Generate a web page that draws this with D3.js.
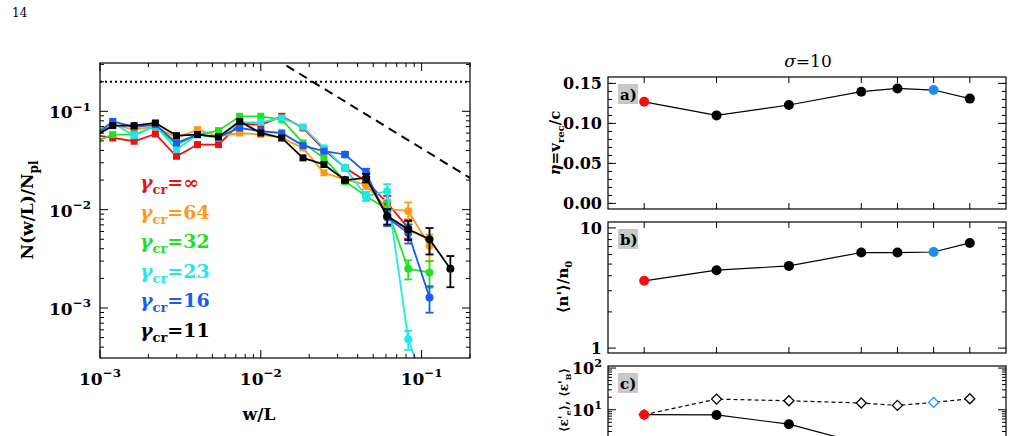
<!DOCTYPE html>
<html><head><meta charset="utf-8">
<script src="https://cdn.jsdelivr.net/npm/d3@7"></script>
<style>body{margin:0;background:#fff}svg{display:block}text{font-family:"DejaVu Serif","Liberation Serif",serif;font-weight:bold}text.n{font-weight:normal}</style>
</head><body><svg id="c" width="1013" height="436"></svg>
<script>
// ---- left panel data ----
const wL = [0.00089,0.0012,0.00163,0.00221,0.00299,0.00404,0.00546,0.00739,0.01,0.0135,0.0183,0.0247,0.0334,0.0452,0.0611,0.0826,0.112,0.151];
const seriesNames = ["∞","64","32","23","16","11"];
const seriesColors = ["#f01010","#ff9a10","#22e022","#20e8e8","#1a5cf0","#000000"];
const sRed    = [0.058,0.0536,0.0496,0.0589,0.0349,0.0459,0.0459,0.075,0.073,0.089,0.0677,0.0408,0.0266,0.0195,0.0117,0.0065];
const sOrange = [0.0627,0.0732,0.0651,0.0704,0.0536,0.0651,0.0557,0.0602,0.058,0.0536,0.0424,0.0237,0.0202,0.018,0.0101,0.0097,0.0043];
const sGreen  = [0.0477,0.058,0.058,0.0704,0.0459,0.058,0.0636,0.089,0.089,0.0823,0.0477,0.0336,0.0195,0.0137,0.0101,0.0025,0.0023];
const sCyan   = [0.0557,0.0761,0.0566,0.0715,0.0408,0.058,0.0536,0.0773,0.0773,0.0856,0.0693,0.0424,0.0266,0.0137,0.0154,0.00048,0.00012];
const sBlue   = [0.0536,0.079,0.0693,0.0732,0.0477,0.058,0.0549,0.0677,0.0627,0.0602,0.0448,0.0393,0.0364,0.0237,0.0083,0.0058,0.00128];
const sBlack  = [0.0536,0.0715,0.0715,0.0761,0.0566,0.058,0.0549,0.079,0.0602,0.0536,0.0336,0.0288,0.02,0.021,0.0086,0.0063,0.005,0.0025];
const errFrac = [0,0,0,0,0,0,0,0,0,0,0,0,0.06,0.1,0.18,0.22,0.3,0.35];
const plateau = 0.2, slopeCoef = 0.0042;
// ---- right panel data ----
const runPos = [0,2,4,6,7,8,9];
const runColors = ["#f01010","#000","#000","#000","#000","#1e8cf0","#000"];
const eta = [0.127,0.110,0.123,0.1396,0.1437,0.1417,0.131];
const nDens = [3.63,4.45,4.83,6.24,6.24,6.3,7.5];
const epsB = [7.6,18,16.4,14.5,12.7,15,18.3];
const epsE = [7.6,7.5,4.5,1.55,1.3,1.15,1.0];

const svg = d3.select("#c");
svg.append("text").attr("class","n").attr("x",12).attr("y",17).attr("font-size",12).text("14");

function logTicks(sc){
  const [a,b]=sc.domain(); const out=[];
  for(let e=Math.floor(Math.log10(a));e<=Math.ceil(Math.log10(b));e++)
    for(let m=1;m<10;m++){const v=m*Math.pow(10,e); if(v>=a&&v<=b) out.push({v,major:m===1});}
  return out;
}
function box(g,x0,x1,y0,y1){g.append("rect").attr("x",x0).attr("y",y0).attr("width",x1-x0).attr("height",y1-y0).attr("fill","none").attr("stroke","#000").attr("stroke-width",1.2);}
function ticksX(g,list,sc,y0,y1){list.forEach(t=>{const L=t.major?8:4,x=sc(t.v);
  g.append("line").attr("x1",x).attr("x2",x).attr("y1",y1).attr("y2",y1-L).attr("stroke","#000");
  g.append("line").attr("x1",x).attr("x2",x).attr("y1",y0).attr("y2",y0+L).attr("stroke","#000");});}
function ticksY(g,list,sc,x0,x1){list.forEach(t=>{const L=t.major?8:4,y=sc(t.v);
  g.append("line").attr("y1",y).attr("y2",y).attr("x1",x0).attr("x2",x0+L).attr("stroke","#000");
  g.append("line").attr("y1",y).attr("y2",y).attr("x1",x1).attr("x2",x1-L).attr("stroke","#000");});}
function pow10(g,x,y,e,anchor,fs){const t=g.append("text").attr("x",x).attr("y",y).attr("text-anchor",anchor).attr("font-size",fs);
  t.append("tspan").text("10");t.append("tspan").attr("dy",-fs*0.45).attr("font-size",fs*0.7).text(e);}

// ---------- LEFT ----------
const L = svg.append("g");
const x = d3.scaleLog().domain([1e-3,0.2]).range([100,470]);
const y = d3.scaleLog().domain([3.1e-4,0.31]).range([358,63]);
L.append("clipPath").attr("id","cl").append("rect").attr("x",100).attr("y",63).attr("width",370).attr("height",295);
const P = L.append("g").attr("clip-path","url(#cl)");
P.append("line").attr("x1",100).attr("x2",470).attr("y1",y(plateau)).attr("y2",y(plateau)).attr("stroke","#000").attr("stroke-width",2).attr("stroke-dasharray","2,3");
const dl=[0.01,0.2];
P.append("line").attr("x1",x(dl[0])).attr("x2",x(dl[1])).attr("y1",y(slopeCoef/dl[0])).attr("y2",y(slopeCoef/dl[1])).attr("stroke","#000").attr("stroke-width",2).attr("stroke-dasharray","9,6");
const allS=[sRed,sOrange,sGreen,sCyan,sBlue,sBlack];
allS.forEach((s,i)=>{
  const c=seriesColors[i];
  P.append("path").datum(s).attr("fill","none").attr("stroke",c).attr("stroke-width",1.8)
   .attr("d",d3.line().x((d,k)=>x(wL[k])).y(d=>y(d)));
  s.forEach((v,k)=>{
    const cx=x(wL[k]),cy=y(v);
    if(errFrac[k]>0){const lo=y(v*(1-errFrac[k])),hi=y(v*(1+errFrac[k]));
      P.append("line").attr("x1",cx).attr("x2",cx).attr("y1",lo).attr("y2",hi).attr("stroke",c).attr("stroke-width",1.8);
      [lo,hi].forEach(yy=>P.append("line").attr("x1",cx-4).attr("x2",cx+4).attr("y1",yy).attr("y2",yy).attr("stroke",c).attr("stroke-width",1.8));}
    if(k>=12) P.append("circle").attr("cx",cx).attr("cy",cy).attr("r",4).attr("fill",c);
    else P.append("rect").attr("x",cx-3.5).attr("y",cy-3.5).attr("width",7).attr("height",7).attr("fill",c);
  });
});
box(L,100,470,63,358);
ticksX(L,logTicks(x),x,63,358);
ticksY(L,logTicks(y),y,100,470);
[1e-3,1e-2,1e-1].forEach((v,i)=>pow10(L,x(v),385,"−"+(3-i),"middle",17));
[1e-1,1e-2,1e-3].forEach((v,i)=>pow10(L,70,y(v)+7,"−"+(i+1),"middle",17));
L.append("text").attr("x",259).attr("y",420).attr("text-anchor","middle").attr("font-size",17).text("w/L");
const yl=L.append("text").attr("transform","translate(33,210) rotate(-90)").attr("text-anchor","middle").attr("font-size",17);
yl.append("tspan").text("N(w/L)/N");yl.append("tspan").attr("dy",5).attr("font-size",12).text("pl");
seriesNames.forEach((n,i)=>{
  const t=L.append("text").attr("x",140).attr("y",189+i*29.6).attr("fill",seriesColors[i]).attr("font-size",19);
  t.append("tspan").attr("font-style","italic").text("γ");
  t.append("tspan").attr("dy",5).attr("font-size",13).text("cr");
  t.append("tspan").attr("dy",-5).text("="+n);
});

// ---------- RIGHT ----------
const R = svg.append("g");
const xr = d3.scaleLinear().domain([-1,10]).range([608,1006]);
svg.append("text").attr("class","n").attr("x",808).attr("y",67).attr("text-anchor","middle").attr("font-size",17).html("<tspan font-style='italic'>σ</tspan>=10");
function xTicksR(y0,y1){runPos.forEach(p=>{R.append("line").attr("x1",xr(p)).attr("x2",xr(p)).attr("y1",y0).attr("y2",y0+6).attr("stroke","#000");
  R.append("line").attr("x1",xr(p)).attr("x2",xr(p)).attr("y1",y1).attr("y2",y1-6).attr("stroke","#000");});}
function tag(y0,s){R.append("rect").attr("x",618).attr("y",y0+7).attr("width",20).attr("height",20).attr("fill","#c8c8c8");
  R.append("text").attr("x",620).attr("y",y0+23).attr("font-size",15).text(s);}
function series(G,sc,vals,dash,shape){
  G.append("path").datum(vals).attr("fill","none").attr("stroke","#000").attr("stroke-width",1.2).attr("stroke-dasharray",dash)
   .attr("d",d3.line().x((d,i)=>xr(runPos[i])).y(d=>sc(d)));
  vals.forEach((v,i)=>{const cx=xr(runPos[i]),cy=sc(v);
    if(shape==="c") G.append("circle").attr("cx",cx).attr("cy",cy).attr("r",5).attr("fill",runColors[i]);
    else G.append("path").attr("d",`M${cx},${cy-5}L${cx+5},${cy}L${cx},${cy+5}L${cx-5},${cy}Z`)
      .attr("fill",i===0?runColors[0]:"#fff").attr("stroke",runColors[i]).attr("stroke-width",1.3);});
}
// a
const ya = d3.scaleLinear().domain([-0.007,0.158]).range([209,77]);
box(R,608,1006,77,209); xTicksR(77,209);
[0,0.05,0.1,0.15].forEach(v=>{const yy=ya(v);
  R.append("line").attr("x1",608).attr("x2",616).attr("y1",yy).attr("y2",yy).attr("stroke","#000");
  R.append("line").attr("x1",1006).attr("x2",998).attr("y1",yy).attr("y2",yy).attr("stroke","#000");
  R.append("text").attr("x",602).attr("y",yy+6).attr("text-anchor","end").attr("font-size",16).text(v.toFixed(2));});
d3.range(0,0.155,0.01).forEach(v=>{const yy=ya(v);
  R.append("line").attr("x1",608).attr("x2",612).attr("y1",yy).attr("y2",yy).attr("stroke","#000");
  R.append("line").attr("x1",1006).attr("x2",1002).attr("y1",yy).attr("y2",yy).attr("stroke","#000");});
tag(77,"a)");
series(R,ya,eta,null,"c");
const la=R.append("text").attr("transform","translate(560,143) rotate(-90)").attr("text-anchor","middle").attr("font-size",15);
la.append("tspan").attr("font-style","italic").text("η");la.append("tspan").text("=v");
la.append("tspan").attr("dy",4).attr("font-size",10).text("rec");la.append("tspan").attr("dy",-4).text("/c");
// b
const yb = d3.scaleLog().domain([0.91,11.2]).range([353,222]);
box(R,608,1006,222,353); xTicksR(222,353);
ticksY(R,logTicks(yb).filter(t=>t.v>=1&&t.v<=10),yb,608,1006);
R.append("text").attr("x",602).attr("y",yb(10)+6).attr("text-anchor","end").attr("font-size",16).text("10");
R.append("text").attr("x",602).attr("y",yb(1)+6).attr("text-anchor","end").attr("font-size",16).text("1");
tag(222,"b)");
series(R,yb,nDens,null,"c");
const lb=R.append("text").attr("transform","translate(568,287) rotate(-90)").attr("text-anchor","middle").attr("font-size",15);
lb.append("tspan").text("⟨n'⟩/n");lb.append("tspan").attr("dy",4).attr("font-size",10).text("0");
// c
const yc = d3.scaleLog().domain([0.049,112]).range([506,366]);
R.append("clipPath").attr("id","cr").append("rect").attr("x",608).attr("y",366).attr("width",398).attr("height",140);
box(R,608,1006,366,506);
ticksY(R,logTicks(yc).filter(t=>t.v<=100),yc,608,1006);
pow10(R,602,yc(100)+6,"2","end",16);pow10(R,602,yc(10)+6,"1","end",16);
tag(366,"c)");
const Rc=R.append("g").attr("clip-path","url(#cr)");
series(Rc,yc,epsE,null,"c");
series(Rc,yc,epsB,"4,3","d");
const lc=R.append("text").attr("transform","translate(568,400) rotate(-90)").attr("text-anchor","middle").attr("font-size",12);
lc.append("tspan").text("⟨ε'");lc.append("tspan").attr("dy",3).attr("font-size",8).text("e");
lc.append("tspan").attr("dy",-3).text("⟩, ⟨ε'");lc.append("tspan").attr("dy",3).attr("font-size",8).text("B");
lc.append("tspan").attr("dy",-3).text("⟩");
</script></body></html>
